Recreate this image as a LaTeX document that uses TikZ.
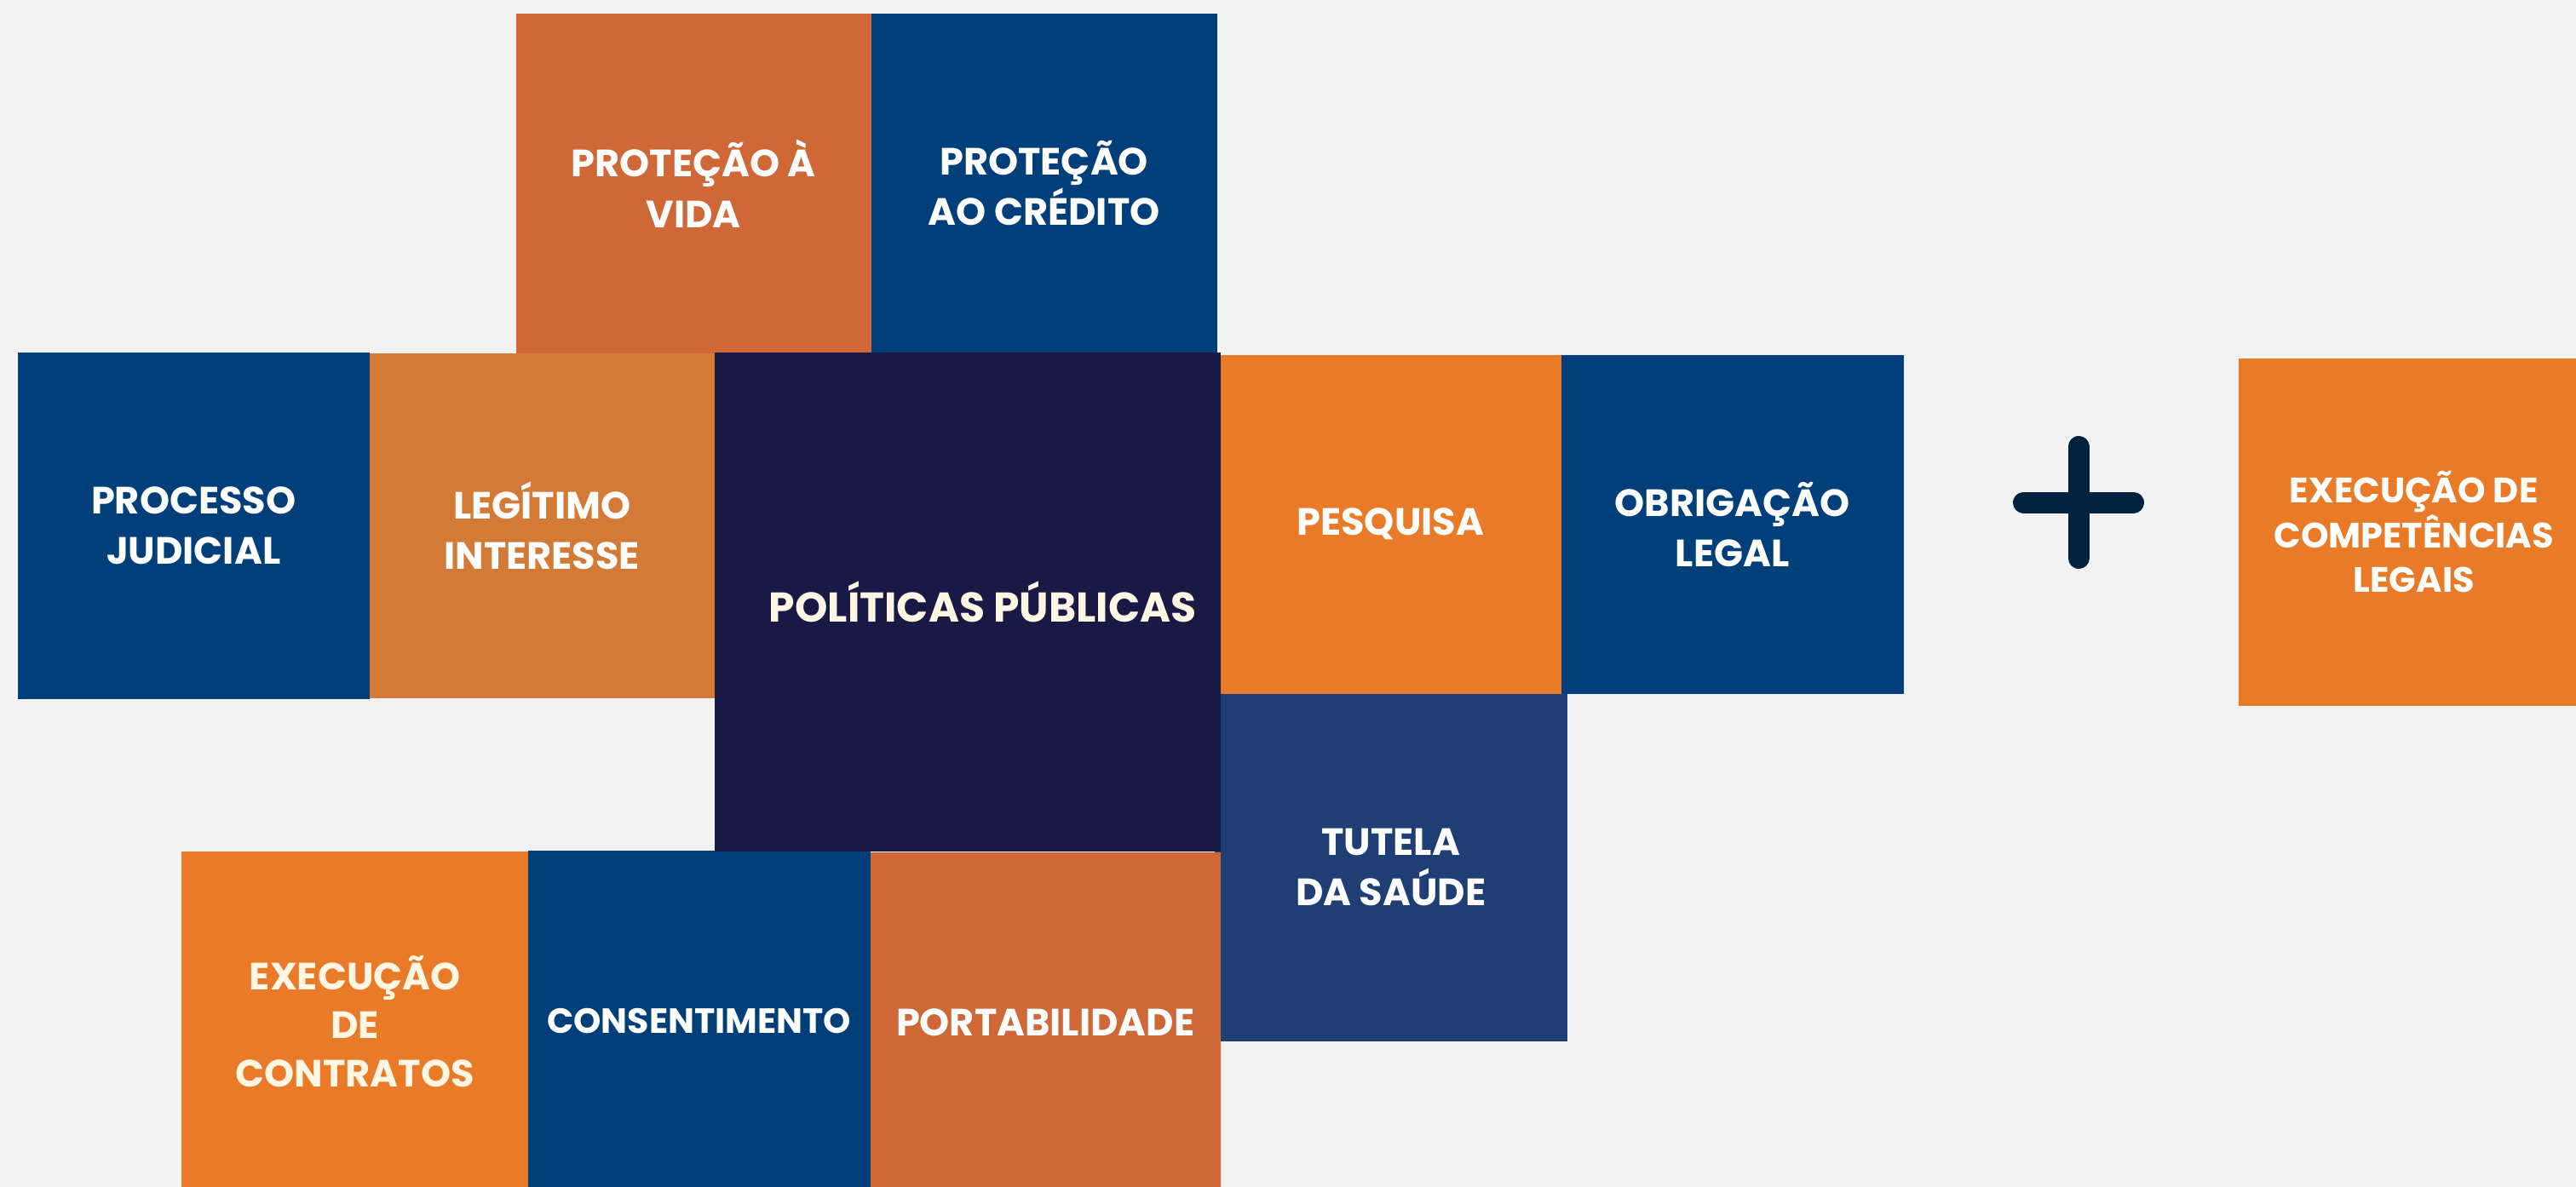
\documentclass[tikz,border=0pt]{standalone}
\usepackage{fontspec}
\setmainfont{Poppins}
\definecolor{bgcol}{HTML}{F2F2F2}
\definecolor{rust}{HTML}{CF6737}
\definecolor{ochre}{HTML}{D47A37}
\definecolor{tangerine}{HTML}{E97A27}
\definecolor{deepblue}{HTML}{013F7B}
\definecolor{steelblue}{HTML}{1F3E73}
\definecolor{navy}{HTML}{181A45}
\definecolor{plusblue}{HTML}{00223F}
\definecolor{cream}{HTML}{FFF6E3}
\begin{document}
\begin{tikzpicture}[tile/.style = {rectangle,inner sep=0pt,anchor=north west,
                        align=center,text=white,
                        font=\fontsize{12.7}{16.8}\selectfont\bfseries},
                    plusbar/.style = {plusblue,line width=0.25cm,line cap=round}]
                \fill[bgcol] (0,0) rectangle (30.24,-13.94);
                \useasboundingbox (0,0) rectangle (30.24,-13.94);

                % upper row
                \node[tile,fill=rust,minimum width=4.17cm,minimum height=4cm]
                    (vida) at (6.05,-0.15) {PROTEÇÃO À\\VIDA};
                \node[tile,fill=deepblue,minimum width=4.06cm,minimum height=3.98cm]
                    (credito) at (10.22,-0.15) {PROTEÇÃO\\AO CRÉDITO};

                % middle row
                \node[tile,fill=deepblue,minimum width=4.13cm,minimum height=4.07cm]
                    (processo) at (0.20,-4.13) {PROCESSO\\JUDICIAL};
                \node[tile,fill=ochre,minimum width=4.05cm,minimum height=4.05cm]
                    (legitimo) at (4.33,-4.14) {LEGÍTIMO\\INTERESSE};
                \node[tile,fill=steelblue,minimum width=4.14cm,minimum height=4.09cm]
                    (tutela) at (14.25,-8.13) {TUTELA\\DA SAÚDE};
                \node[tile,fill=tangerine,minimum width=4.01cm,minimum height=3.98cm]
                    (pesquisa) at (14.31,-4.16) {PESQUISA};
                \node[tile,fill=deepblue,minimum width=4.02cm,minimum height=3.98cm]
                    (obrigacao) at (18.32,-4.16) {OBRIGAÇÃO\\LEGAL};

                % lower row
                \node[tile,fill=tangerine,text=cream,minimum width=4.08cm,minimum height=4cm,
                      font=\fontsize{12.7}{16.2}\selectfont\bfseries]
                    (contratos) at (2.12,-9.99) {EXECUÇÃO\\DE\\CONTRATOS};
                \node[tile,fill=deepblue,minimum width=4.02cm,minimum height=4cm,
                      font=\fontsize{11.7}{16}\selectfont\bfseries]
                    (consentimento) at (6.19,-9.98) {CONSENTIMENTO};
                \node[tile,fill=rust,minimum width=4.11cm,minimum height=4cm]
                    (portabilidade) at (10.21,-10.00) {PORTABILIDADE};

                % centre
                \node[tile,fill=navy,text=cream,minimum width=5.94cm,minimum height=5.86cm,
                      font=\fontsize{13.9}{16}\selectfont\bfseries]
                    (politicas) at (8.38,-4.13) {\hspace*{0.36cm}POLÍTICAS PÚBLICAS};

                % plus and extra tile
                \coordinate (plus) at (24.40,-5.90);
                \draw[plusbar] ([yshift=0.655cm]plus) -- ([yshift=-0.655cm]plus);
                \draw[plusbar] ([xshift=-0.645cm]plus) -- ([xshift=0.645cm]plus);
                \node[tile,fill=tangerine,minimum width=4.12cm,minimum height=4.08cm,
                      font=\fontsize{11.8}{15}\selectfont\bfseries]
                    (competencias) at (26.27,-4.20) {EXECUÇÃO DE\\COMPETÊNCIAS\\LEGAIS};
            \end{tikzpicture}
\end{document}
